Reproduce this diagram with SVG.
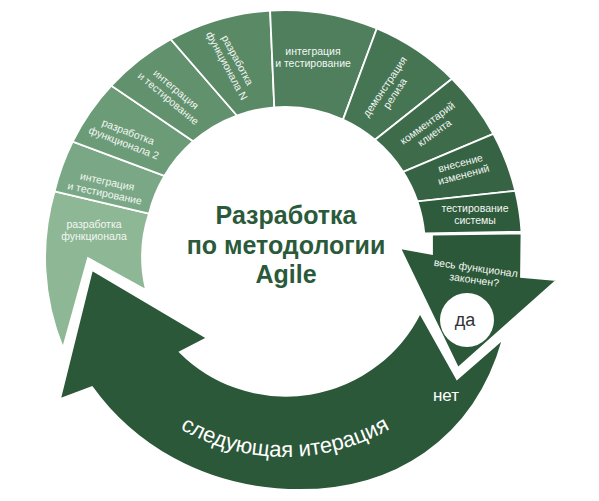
<svg xmlns="http://www.w3.org/2000/svg" width="599" height="501" viewBox="0 0 599 501">
<defs>
<style>
.seg{stroke:#ffffff;stroke-width:1.8;stroke-linejoin:miter}
.st{font-family:"Liberation Sans",Arial,sans-serif;font-size:10.5px;fill:#f3f7f3;text-anchor:middle}
.title{font-family:"Liberation Sans",Arial,sans-serif;font-size:25px;font-weight:bold;fill:#2b5a3a;text-anchor:middle}
.big{font-family:"Liberation Sans",Arial,sans-serif;fill:#ffffff}
</style>
<path id="iterArc" d="M87.7,318.8 A210,210 0 0 0 482.3,318.8"/>
</defs>
<rect width="599" height="501" fill="#ffffff"/>

<g id="seg-razrabotka1">
<path class="seg" fill="#8db795" d="M54.6,191.3 A237,237 0 0 0 63,348 L88,258 L146,290 A140,140 0 0 1 149,213.6 Z"/>
<text class="st" x="94" y="227.5">разработка</text>
<text class="st" x="94" y="239.5">функционала</text>
</g>
<g id="seg-integr1">
<path class="seg" fill="#7aa886" d="M54.6,191.3 A237,237 0 0 1 72.7,141.6 L164.4,175.9 A140,140 0 0 0 149,213.6 Z"/>
<g transform="translate(106,187.5) rotate(12)"><text class="st" x="0" y="-2.5">интеграция</text><text class="st" x="0" y="9.5">и тестирование</text></g>
</g>
<g id="seg-razrabotka2">
<path class="seg" fill="#6c9b78" d="M72.7,141.6 A237,237 0 0 1 111.4,85.7 L193.2,141.3 A140,140 0 0 0 164.4,175.9 Z"/>
<g transform="translate(126,137.5) rotate(21)"><text class="st" x="0" y="-2.5">разработка</text><text class="st" x="0" y="9.5">функционала 2</text></g>
</g>
<g id="seg-integr2">
<path class="seg" fill="#62916e" d="M111.4,85.7 A237,237 0 0 1 170.8,39.3 L236.9,115.5 A140,140 0 0 0 193.2,141.3 Z"/>
<g transform="translate(172,94) rotate(40)"><text class="st" x="0" y="-2.5">интеграция</text><text class="st" x="0" y="9.5">и тестирование</text></g>
</g>
<g id="seg-razrabotkaN">
<path class="seg" fill="#5a8966" d="M170.8,39.3 A237,237 0 0 1 270.1,10.5 L274.3,107.4 A140,140 0 0 0 236.9,115.5 Z"/>
<g transform="translate(232,63) rotate(62)"><text class="st" x="0" y="-2.5">разработка</text><text class="st" x="0" y="9.5">функционала N</text></g>
</g>
<g id="seg-integr3">
<path class="seg" fill="#4f7f5d" d="M270.1,10.5 A237,237 0 0 1 376.8,28.5 L343,119.6 A140,140 0 0 0 274.3,107.4 Z"/>
<text class="st" x="313" y="55">интеграция</text>
<text class="st" x="313" y="67">и тестирование</text>
</g>
<g id="seg-demo">
<path class="seg" fill="#467554" d="M376.8,28.5 A237,237 0 0 1 452,78.8 L375,139.8 A140,140 0 0 0 343,119.6 Z"/>
<g transform="translate(390,90) rotate(-56)"><text class="st" x="0" y="-2.5">демонстрация</text><text class="st" x="0" y="9.5">релиза</text></g>
</g>
<g id="seg-comment">
<path class="seg" fill="#3e6c4b" d="M452,78.8 A237,237 0 0 1 493.3,133.9 L403.1,171.8 A140,140 0 0 0 375,139.8 Z"/>
<g transform="translate(431,128) rotate(-36)"><text class="st" x="0" y="-2.5">комментарий</text><text class="st" x="0" y="9.5">клиента</text></g>
</g>
<g id="seg-changes">
<path class="seg" fill="#366343" d="M493.3,133.9 A237,237 0 0 1 515.3,190.9 L417.4,201.4 A140,140 0 0 0 403.1,171.8 Z"/>
<g transform="translate(462,169) rotate(-15)"><text class="st" x="0" y="-2.5">внесение</text><text class="st" x="0" y="9.5">изменений</text></g>
</g>
<g id="seg-systest">
<path class="seg" fill="#2f5b3d" d="M515.3,190.9 A237,237 0 0 1 521.5,231.7 L424.3,233.3 A140,140 0 0 0 417.4,201.4 Z"/>
<text class="st" x="475" y="211.5">тестирование</text>
<text class="st" x="475" y="223.5">системы</text>
</g>

<g id="decision">
<path class="seg" fill="#2b5838" d="M432,234.5 L521.5,233.5 L521,277 L557,280 L458,368 L400,248 L432,254 Z"/>
<g transform="translate(475,274) rotate(8)"><text class="st" x="0" y="-2.5">весь функционал</text><text class="st" x="0" y="9.5">закончен?</text></g>
<circle cx="467" cy="320" r="27" fill="#ffffff"/>
<text x="465" y="326" font-family="Liberation Sans, Arial, sans-serif" font-size="18" fill="#333333" text-anchor="middle">да</text>
</g>

<g id="connectors">
<path id="next-iteration" class="seg" fill="#2b5838" d="M420,313 L457,379 L503,339 C474,442 392,490 300,490 C200,490 130,440 92,387 L60,399 L92,270 L207,338 L180,352 A150,150 0 0 0 420,313 Z"/>
<text class="big" font-size="22"><textPath href="#iterArc" startOffset="50%" text-anchor="middle">следующая итерация</textPath></text>
<text class="big" x="446" y="401" font-size="17" text-anchor="middle">нет</text>
</g>

<g id="title">
<text class="title" x="286" y="224">Разработка</text>
<text class="title" x="286" y="254">по методологии</text>
<text class="title" x="286" y="283">Agile</text>
</g>
</svg>
